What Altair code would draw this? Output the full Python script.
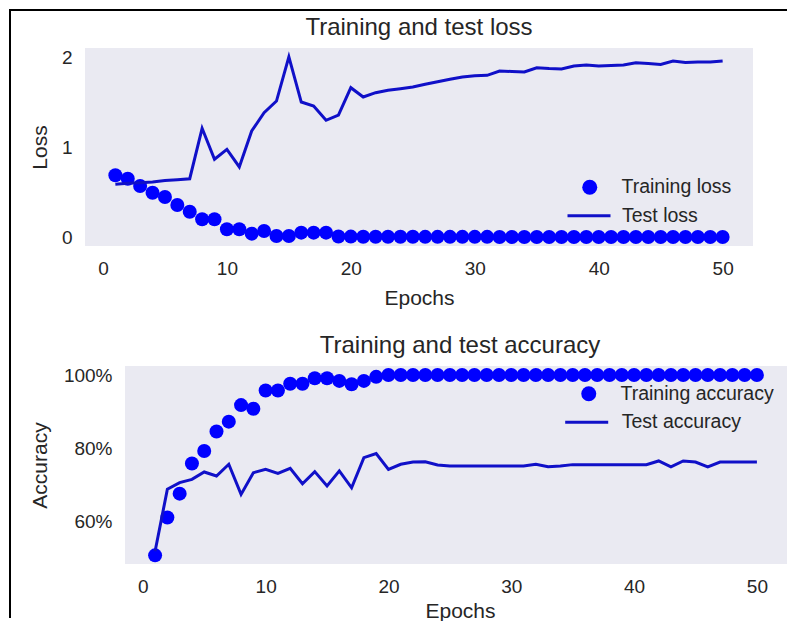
import altair as alt
import pandas as pd

# ---------------- data ----------------
epochs = list(range(1, 51))

train_loss = [0.689, 0.651, 0.570, 0.495, 0.447, 0.358, 0.283, 0.198, 0.198, 0.087,
              0.087, 0.038, 0.068, 0.012, 0.012, 0.049, 0.049, 0.049, 0.006, 0.005,
              0.004, 0.004, 0.003, 0.003, 0.003, 0.002, 0.002, 0.002, 0.002, 0.002,
              0.002, 0.001, 0.001, 0.001, 0.001, 0.001, 0.001, 0.001, 0.001, 0.001,
              0.001, 0.001, 0.001, 0.001, 0.001, 0.001, 0.001, 0.001, 0.001, 0.001]

test_loss = [0.59, 0.60, 0.607, 0.615, 0.63, 0.64, 0.651, 1.214, 0.868, 0.979,
             0.782, 1.184, 1.388, 1.518, 2.01, 1.507, 1.463, 1.303, 1.362, 1.667,
             1.563, 1.611, 1.638, 1.656, 1.675, 1.705, 1.734, 1.761, 1.786, 1.80,
             1.805, 1.853, 1.848, 1.842, 1.89, 1.881, 1.876, 1.91, 1.92, 1.91,
             1.915, 1.92, 1.946, 1.937, 1.926, 1.965, 1.948, 1.954, 1.954, 1.965]

train_acc = [0.509, 0.612, 0.677, 0.759, 0.793, 0.846, 0.873, 0.918, 0.908, 0.958,
             0.958, 0.976, 0.976, 0.991, 0.991, 0.984, 0.975, 0.984, 0.995, 1.0,
             1.0, 1.0, 1.0, 1.0, 1.0, 1.0, 1.0, 1.0, 1.0, 1.0,
             1.0, 1.0, 1.0, 1.0, 1.0, 1.0, 1.0, 1.0, 1.0, 1.0,
             1.0, 1.0, 1.0, 1.0, 1.0, 1.0, 1.0, 1.0, 1.0, 1.0]

test_acc = [0.52, 0.689, 0.707, 0.716, 0.736, 0.725, 0.757, 0.675, 0.734, 0.743,
            0.732, 0.746, 0.704, 0.737, 0.698, 0.739, 0.693, 0.775, 0.786, 0.743,
            0.757, 0.763, 0.764, 0.755, 0.752, 0.752, 0.752, 0.752, 0.752, 0.752,
            0.752, 0.757, 0.750, 0.752, 0.756, 0.756, 0.756, 0.756, 0.756, 0.756,
            0.756, 0.766, 0.750, 0.766, 0.763, 0.750, 0.763, 0.763, 0.763, 0.763]

loss_labels = ["Training loss", "Test loss"]
acc_labels = ["Training accuracy", "Test accuracy"]
x_ticks = [0, 10, 20, 30, 40, 50]
loss_ticks = [0, 1, 2]
acc_ticks = [0.6, 0.8, 1.0]
titles = ["Training and test loss", "Training and test accuracy"]

# ---------------- style ----------------
FONT = "Liberation Sans"
TXT = "#262626"
BLUE = "#0000FF"
LINE = "#1010c8"
BG = "#EAEAF2"
H = 198


def panel(train, test, labels, ydom, yticks, yfmt, ytitle, width, leg1, leg2,
          ytitle_x, xtitle_y, title, title_dx, xtitle_dx):
    tr = pd.DataFrame({"epoch": epochs, "value": train, "series": labels[0]})
    te = pd.DataFrame({"epoch": epochs, "value": test, "series": labels[1]})
    x = alt.X("epoch:Q",
              scale=alt.Scale(domain=[-1.45, 52.45], nice=False, zero=False),
              axis=alt.Axis(values=x_ticks, format="d", title="Epochs",
                            titleX=width / 2 + xtitle_dx, titleY=xtitle_y,
                            titleBaseline="alphabetic",
                            labelBaseline="middle", labelPadding=22.5,
                            labelFlush=False))
    y = alt.Y("value:Q",
              scale=alt.Scale(domain=ydom, nice=False, zero=False),
              axis=alt.Axis(values=yticks, format=yfmt, title=ytitle,
                            titleX=ytitle_x, titleY=H / 2,
                            titleBaseline="alphabetic",
                            labelPadding=13, labelBaseline="middle",
                            labelFlush=False))
    common = dict(title=None, orient="none", labelFont=FONT, labelFontSize=19.5,
                  labelColor=TXT, padding=0)
    pts = alt.Chart(tr).mark_point(filled=True, size=196, opacity=1).encode(
        x=x, y=y,
        color=alt.Color("series:N",
                        scale=alt.Scale(domain=[labels[0]], range=[BLUE]),
                        legend=alt.Legend(legendX=leg1[0], legendY=leg1[1],
                                          symbolSize=225, symbolStrokeWidth=0,
                                          symbolType="circle", labelOffset=22,
                                          **common)))
    line = alt.Chart(te).mark_line(strokeWidth=3).encode(
        x=x, y=y,
        color=alt.Color("series:N",
                        scale=alt.Scale(domain=[labels[1]], range=[LINE]),
                        legend=alt.Legend(legendX=leg2[0], legendY=leg2[1],
                                          symbolSize=1849, symbolStrokeWidth=3,
                                          symbolType="stroke", labelOffset=leg2[2],
                                          **common)))
    t = alt.TitleParams(title, font=FONT, fontSize=24, fontWeight="normal",
                        color=TXT, offset=-11.4, baseline="alphabetic",
                        frame="group", anchor="middle", dx=title_dx)
    return alt.layer(pts, line).resolve_scale(color="independent").resolve_legend(
        color="independent").properties(width=width, height=H, title=t)


one = pd.DataFrame({"k": [0]})

top_chart = panel(train_loss, test_loss, loss_labels, [-0.1, 2.11], loss_ticks, "d",
                  "Loss", 668, (495, 129.5), (481, 144.75, 10), -38.5, 58.4,
                  titles[0], 0, 0)

bottom_chart = panel(train_acc, test_acc, acc_labels, [0.4855, 1.0245], acc_ticks, ".0%",
                     "Accuracy", 662, (454, 18), (438.7, 33.25, 12), -78.5, 53,
                     titles[1], 4, 4)

# outer frame lines (decoration), drawn from the spacer cell that offsets the lower panel
left_border = alt.Chart(one).mark_rule(color="black", strokeWidth=2).encode(
    x=alt.value(-75), y=alt.value(-357), y2=alt.value(252))
top_border = alt.Chart(one).mark_rule(color="black", strokeWidth=2).encode(
    x=alt.value(-76), x2=alt.value(702), y=alt.value(-356))
spacer = alt.layer(left_border, top_border).properties(
    width=40, height=H, view=alt.ViewBackground(fill="transparent", strokeWidth=0))

bottom_row = alt.hconcat(spacer, bottom_chart, spacing=0, bounds="flush")

chart = alt.vconcat(top_chart, bottom_row, spacing=120, bounds="flush", padding=0).resolve_scale(
    color="independent", x="independent", y="independent"
).resolve_legend(color="independent").configure_view(
    fill=BG, strokeWidth=0
).configure_axis(
    grid=False, ticks=False, tickSize=0, domain=False,
    labelFont=FONT, labelFontSize=19, labelColor=TXT,
    titleFont=FONT, titleFontSize=21, titleColor=TXT, titleFontWeight="normal"
)

chart.save("out.html", embed_options={"renderer": "svg", "actions": False})
